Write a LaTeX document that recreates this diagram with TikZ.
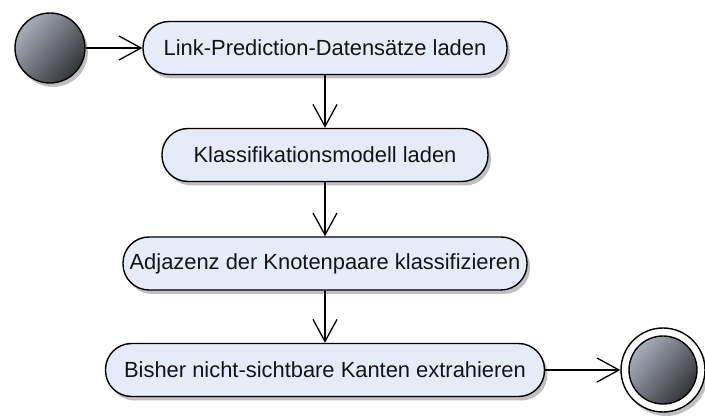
\documentclass[tikz,border=0pt]{standalone}
\usepackage{fontspec}
\setmainfont{Liberation Sans}
\usetikzlibrary{arrows.meta,shadows}
\definecolor{actfill}{HTML}{E6ECF7}
\definecolor{dotlight}{HTML}{A9AEBA}
\definecolor{dotdark}{HTML}{333438}
\begin{document}
\begin{tikzpicture}[x=1pt,y=-1pt,
  softshadow/.style={drop shadow={shadow xshift=3pt, shadow yshift=-4pt, opacity=0.25, fill=black}},
  action/.style={draw=black, line width=1.4pt, fill=actfill, rounded corners=26pt,
    minimum height=53pt, inner sep=0pt, text=black!92,
    font=\fontsize{21.9}{24}\selectfont, softshadow},
  dot/.style={circle, draw=black, line width=1.4pt, inner sep=0pt,
    left color=dotlight, right color=dotdark, shading angle=50},
  ring/.style={circle, draw=black, line width=1.4pt, fill=white, inner sep=0pt, softshadow},
  flow/.style={line width=1.3pt, -{Straight Barb[length=22pt,width=24pt,line width=1.3pt]}}]
\useasboundingbox (0,0) rectangle (705,419);

% start node
\node[dot, minimum size=70pt, softshadow] (start) at (50,48) {};

% actions
\node[action, minimum width=364pt] (a1) at (325,48) {Link-Prediction-Datensätze laden};
\node[action, minimum width=326pt] (a2) at (325,155) {Klassifikationsmodell laden};
\node[action, minimum width=404pt] (a3) at (325,263.5) {Adjazenz der Knotenpaare klassifizieren};
\node[action, minimum width=439pt] (a4) at (325,370) {Bisher nicht-sichtbare Kanten extrahieren};

% final node
\node[ring, minimum size=84pt] (final) at (663,370) {};
\node[dot, minimum size=68pt] (finaldot) at (final) {};

% control flow
\draw[flow] (start) -- (a1);
\draw[flow] (a1) -- (a2);
\draw[flow] (a2) -- (a3);
\draw[flow] (a3) -- (a4);
\draw[flow] (a4) -- (final);
\end{tikzpicture}
\end{document}
